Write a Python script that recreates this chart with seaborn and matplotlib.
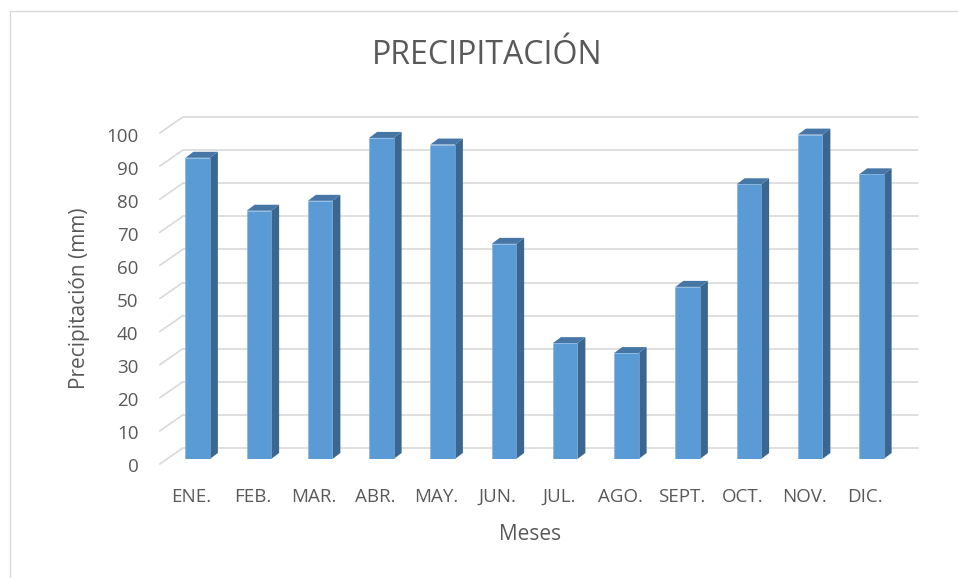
import matplotlib
matplotlib.use("Agg")
import matplotlib.pyplot as plt
import matplotlib.transforms as mtransforms
from matplotlib.patches import Polygon, Rectangle
from matplotlib.lines import Line2D
import seaborn as sns
import pandas as pd

# Monthly precipitation (mm)
meses = ["ENE.", "FEB.", "MAR.", "ABR.", "MAY.", "JUN.",
         "JUL.", "AGO.", "SEPT.", "OCT.", "NOV.", "DIC."]
precipitacion = [91, 75, 78, 97, 95, 65, 35, 32, 52, 83, 98, 86]
y_ticks = [0, 10, 20, 30, 40, 50, 60, 70, 80, 90, 100]

titulo = "PRECIPITACIÓN"
etiqueta_x = "Meses"
etiqueta_y = "Precipitación (mm)"

sns.set_style("white")
plt.rcParams["font.family"] = ["Open Sans", "DejaVu Sans"]

TXT = "#595959"
GRID = "#D9D9D9"
FRONT = "#5B9BD5"
SIDE = "#3A6690"
TOP = "#4676A6"

W, H = 958, 578
fig = plt.figure(figsize=(W / 100, H / 100), dpi=100)
fig.patch.set_facecolor("white")

# Axes = plane of the bars' front faces (pixel layout)
ax_l, ax_r, ax_zero, ax_top = 167, 902, 459, 128
ax = fig.add_axes([ax_l / W, (H - ax_zero) / H, (ax_r - ax_l) / W, (ax_zero - ax_top) / H])
ax.set_facecolor("none")

df = pd.DataFrame({"mes": meses, "mm": precipitacion})
sns.barplot(data=df, x="mes", y="mm", color=FRONT, saturation=1, width=0.4,
            edgecolor="#7FB0E0", linewidth=0.4, ax=ax, zorder=3)
ax.set_xlim(-0.5, len(meses) - 0.5)
ax.set_ylim(0, 100)
ax.set_xticks([])
ax.set_yticks([])
ax.set_xlabel("")
ax.set_ylabel("")
for s in ax.spines.values():
    s.set_visible(False)


def px(dx, dy):
    """Offset transform in screen pixels (dy positive = up)."""
    return mtransforms.ScaledTranslation(dx / 100, dy / 100, fig.dpi_scale_trans)


# Depth planes relative to the bar plane (pixels)
back_dx, back_dy = 15.8, 11.0
front_dx, front_dy = -7.2, -5.0

ytr = ax.get_yaxis_transform()
for t in y_ticks:
    # back wall horizontal grid line
    ax.add_line(Line2D([0, 1], [t, t], transform=ytr + px(back_dx, back_dy),
                       color=GRID, lw=1.2, clip_on=False, zorder=1))
    # side wall diagonal from the front plane to the back wall
    x0, y0 = ax.transData.transform((-0.5, t))
    fig.add_artist(Line2D([(x0 + front_dx) / W, (x0 + back_dx) / W],
                          [(y0 + front_dy) / H, (y0 + back_dy) / H],
                          transform=fig.transFigure, color=GRID, lw=1.2, zorder=0))
    # y tick labels on the front plane
    ax.text(0, t, str(t), transform=ytr + px(-28.5, -13.5), ha="right",
            va="baseline", fontsize=13.5, color=TXT)

# 3D side and top faces of each column
xr = ax.get_xlim()
ppx = ax.bbox.width / (xr[1] - xr[0])
ppy = ax.bbox.height / 100
ddx, ddy = 8 / ppx, 6 / ppy
for p in ax.patches:
    x0 = p.get_x()
    x1 = x0 + p.get_width()
    h = p.get_height()
    ax.add_patch(Polygon([(x1, 0), (x1 + ddx, ddy), (x1 + ddx, h + ddy), (x1, h)],
                         closed=True, facecolor=SIDE, edgecolor="none", zorder=2, clip_on=False))
    ax.add_patch(Polygon([(x0, h), (x1, h), (x1 + ddx, h + ddy), (x0 + ddx, h + ddy)],
                         closed=True, facecolor=TOP, edgecolor="none", zorder=2, clip_on=False))

# category labels on the front plane
xtr = ax.get_xaxis_transform()
for i, m in enumerate(meses):
    ax.text(i, 0, m, transform=xtr + px(-6, -43), ha="center", va="baseline",
            fontsize=13.5, color=TXT)

fig.text(487.5 / W, 1 - 55 / H, titulo, ha="center", va="center", fontsize=23, color=TXT)
fig.text(530 / W, 1 - 534 / H, etiqueta_x, ha="center", va="center", fontsize=15, color=TXT)
fig.text(80 / W, 1 - 298 / H, etiqueta_y, ha="center", va="center", rotation=90,
         fontsize=15, color=TXT)

# chart frame
fig.add_artist(Rectangle((10 / W, -0.1), 1.2, 1.1 - 11 / H, transform=fig.transFigure,
                         fill=False, edgecolor=GRID, lw=1.0))

fig.savefig("out.png", dpi=100)
